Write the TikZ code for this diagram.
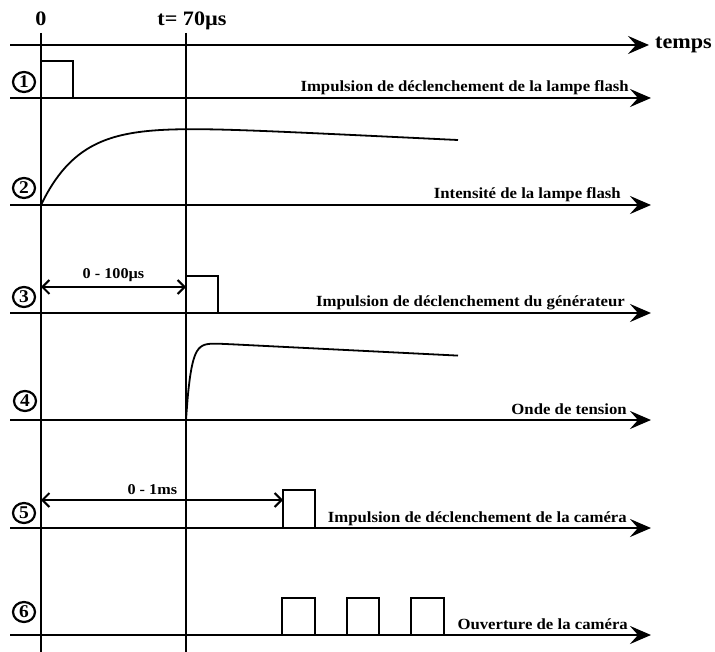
\documentclass[tikz,border=0pt]{standalone}
\usepackage{fontspec}
\setmainfont{Liberation Serif}[FakeStretch=1.08]
\usetikzlibrary{arrows.meta,shapes.geometric}
\begin{document}
\begin{tikzpicture}[x=1pt,y=-1pt,
  axis/.style={line width=2.8pt,-{Stealth[length=21pt,width=18pt,inset=8pt]}},
  vline/.style={line width=2.4pt},
  pulse/.style={line width=1.1pt},
  curve/.style={line width=1.8pt},
  span/.style={line width=2pt,{Straight Barb[length=7pt,width=14pt,line width=2pt]}-{Straight Barb[length=7pt,width=14pt,line width=2pt]}},
  lbl/.style={font=\fontsize{15.5}{17}\selectfont\bfseries,anchor=base east,inner sep=0pt},
  top/.style={font=\fontsize{20.5}{22}\selectfont\bfseries,anchor=base,inner sep=0pt},
  spanlbl/.style={font=\fontsize{15}{16}\selectfont\bfseries,inner sep=0pt},
  num/.style={ellipse,draw,line width=2.2pt,inner sep=0pt,minimum width=22pt,minimum height=20pt,font=\fontsize{18}{18}\selectfont\bfseries}]
\useasboundingbox (0,0) rectangle (715,652);
% vertical lines
\coordinate (v0t) at (41,33); \coordinate (v0b) at (41,652);
\coordinate (v1t) at (186,33); \coordinate (v1b) at (186,652);
\draw[vline] (v0t) -- (v0b);
\draw[vline] (v1t) -- (v1b);
% top labels
\node[top] (zero) at (41,26) {0};
\node[top] (t70) at (192,26) {t= 70µs};
% axes
\coordinate (a0s) at (10,45); \coordinate (a0e) at (649,45);
\draw[axis] (a0s) -- (a0e);
\node[font=\fontsize{20.5}{22}\selectfont\bfseries,anchor=west,inner sep=0pt] (temps) at (655,45) {temps};
\foreach \i/\y in {1/98,2/205,3/313,4/420,5/528,6/635}{
  \coordinate (s\i) at (10,\y); \coordinate (e\i) at (651,\y);
  \draw[axis] (s\i) -- (e\i);
}
% circled numbers
\node[num] (n1) at (24,82) {1};
\node[num] (n2) at (24,188) {2};
\node[num] (n3) at (24,297) {3};
\node[num] (n4) at (25,401) {4};
\node[num] (n5) at (24,513) {5};
\node[num] (n6) at (24,612) {6};
% labels
\node[lbl] (l1) at (629,92) {Impulsion de déclenchement de la lampe flash};
\node[lbl] (l2) at (621,199) {Intensité de la lampe flash};
\node[lbl] (l3) at (625,307) {Impulsion de déclenchement du générateur};
\node[lbl] (l4) at (627,414) {Onde de tension};
\node[lbl] (l5) at (627,522) {Impulsion de déclenchement de la caméra};
\node[lbl] (l6) at (628,629) {Ouverture de la caméra};
% pulses
\draw[pulse] (41,61) -- (73,61) -- (73,98);
\draw[pulse] (187,276) -- (218,276) -- (218,313);
\draw[pulse] (283,528) -- (283,490) -- (315,490) -- (315,528);
\foreach \a/\b in {282/315,347/379,411/444}{
  \draw[pulse] (\a,635) -- (\a,598) -- (\b,598) -- (\b,635);
}
% curves
\draw[curve] plot[domain=0:417,samples=120,smooth] ({41+\x},{205-85*(1-exp(-\x/40))+0.048*\x});
\draw[curve] plot[domain=0:272,samples=150,smooth] ({186+\x},{420-78*(1-exp(-\x/5))+0.05*\x});
% spans
\coordinate (p3a) at (41,287); \coordinate (p3b) at (186,287);
\draw[span] (p3a) -- (p3b) node[midway,above=4pt,spanlbl] (s3l) {0 - 100µs};
\coordinate (p5a) at (41,500); \coordinate (p5b) at (283,500);
\draw[span] (p5a) -- (p5b) node[pos=0.46,above=4pt,spanlbl] (s5l) {0 - 1ms};
\end{tikzpicture}
\end{document}
